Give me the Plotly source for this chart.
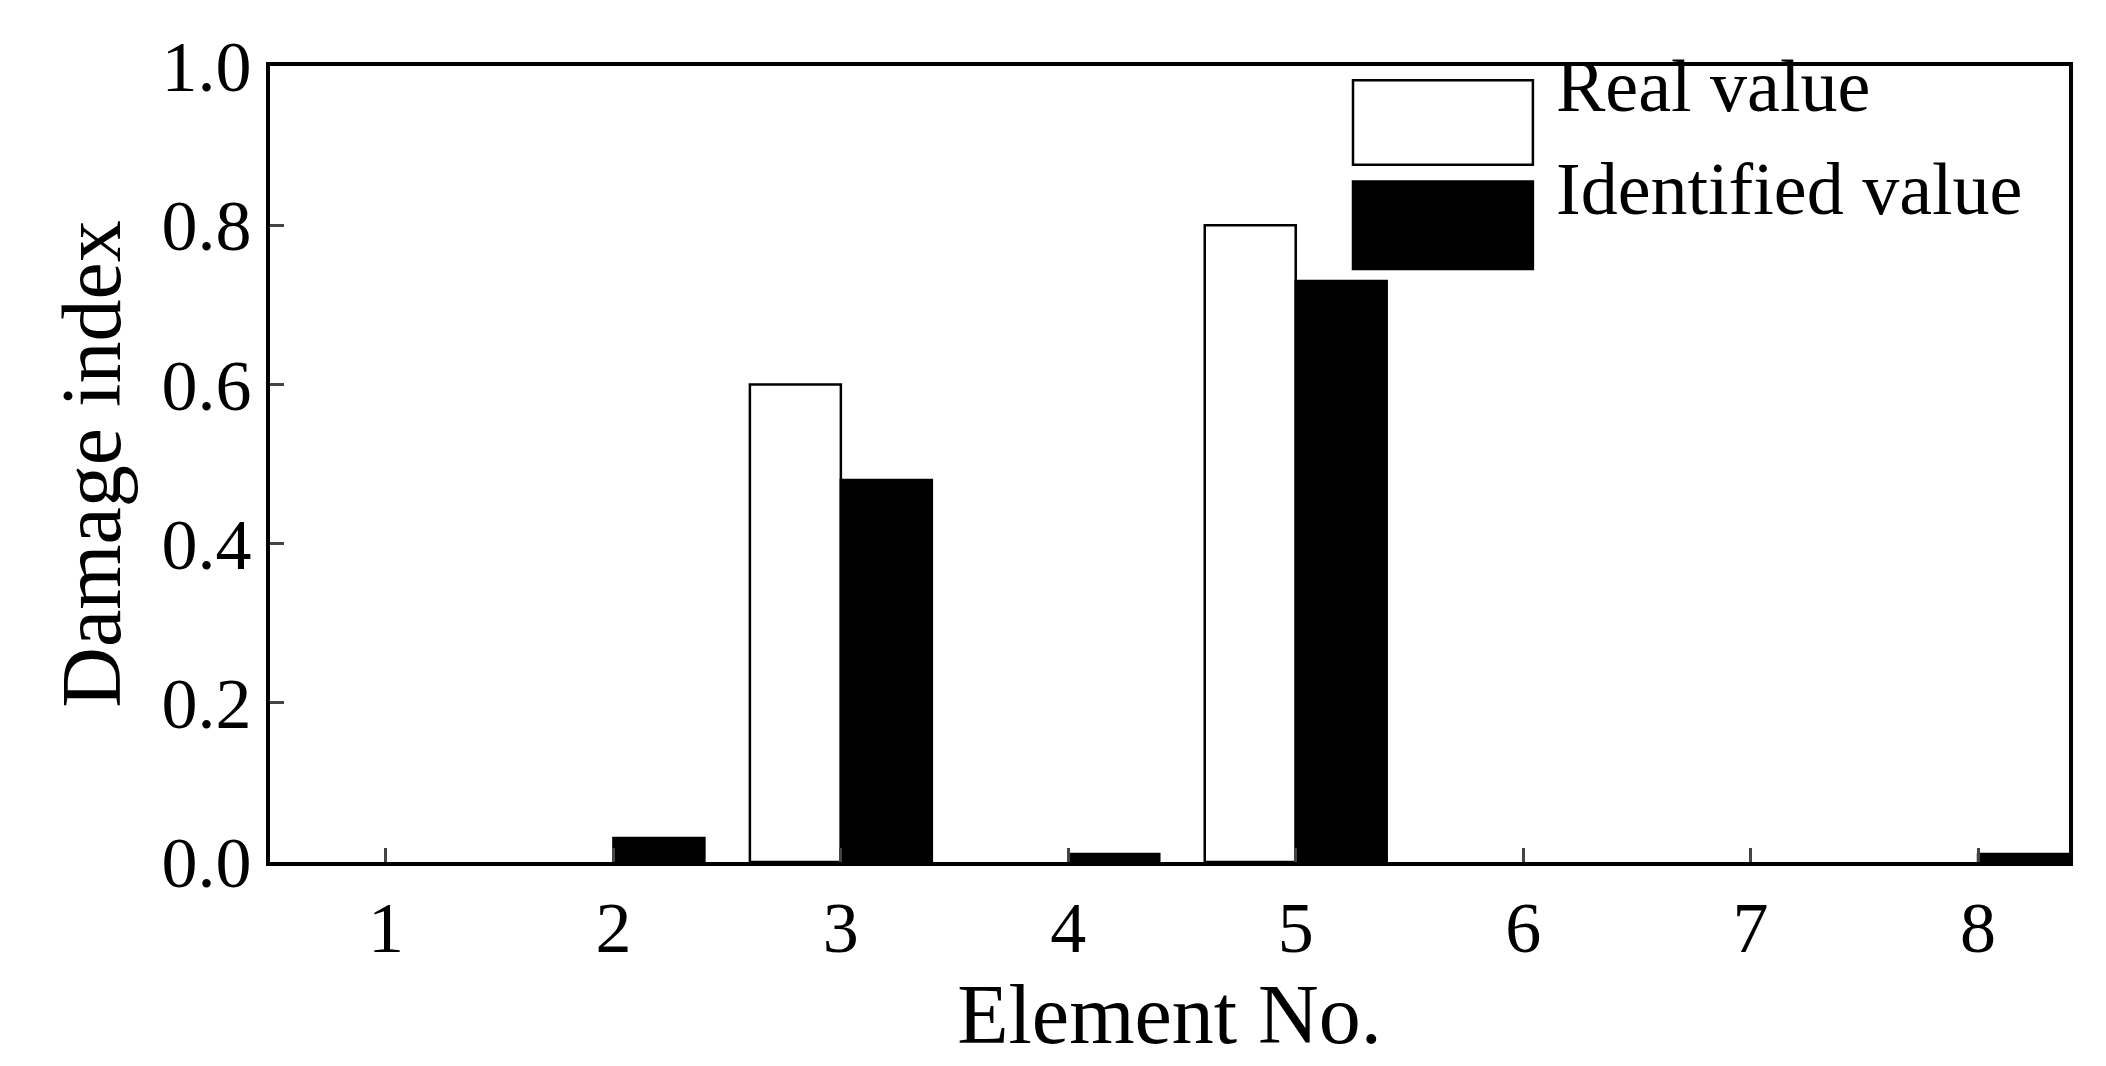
import plotly.graph_objects as go

elements = [1, 2, 3, 4, 5, 6, 7, 8]
real_value = [0, 0, 0.6, 0, 0.8, 0, 0, 0]
identified_value = [0, 0.03, 0.48, 0.01, 0.73, 0, 0, 0.01]

font = "Liberation Serif"

# no outline on zero-height bars
real_lw = [2.5 if v > 0 else 0 for v in real_value]
ident_lw = [2.5 if v > 0 else 0 for v in identified_value]

fig = go.Figure()
fig.add_bar(x=elements, y=real_value, name="Real value",
            marker=dict(color="white", line=dict(color="black", width=real_lw)))
fig.add_bar(x=elements, y=identified_value, name="Identified value",
            marker=dict(color="black", line=dict(color="black", width=ident_lw)))

# large legend boxes drawn by hand, like the original
fig.add_shape(type="rect", xref="paper", yref="paper", x0=0.602, x1=0.702, y0=0.876, y1=0.982,
              fillcolor="white", line=dict(color="black", width=2.5))
fig.add_shape(type="rect", xref="paper", yref="paper", x0=0.602, x1=0.702, y0=0.745, y1=0.855,
              fillcolor="black", line=dict(color="black", width=2.5))
fig.add_annotation(xref="paper", yref="paper", x=0.714, y=0.975, text="Real value",
                   showarrow=False, xanchor="left", yanchor="middle",
                   font=dict(family=font, size=74, color="black"))
fig.add_annotation(xref="paper", yref="paper", x=0.714, y=0.845, text="Identified value",
                   showarrow=False, xanchor="left", yanchor="middle",
                   font=dict(family=font, size=74, color="black"))

fig.update_layout(
    width=2106, height=1066, barmode="group", bargap=0.2, bargroupgap=0,
    showlegend=False, plot_bgcolor="white", paper_bgcolor="white",
    margin=dict(l=262, r=45, t=58, b=212),
    font=dict(family=font, size=72, color="black"),
)
fig.update_xaxes(range=[0.49, 8.4], tickvals=elements, ticks="inside", ticklen=14, tickwidth=3,
                 showline=True, linewidth=4, linecolor="black", mirror=True, showgrid=False,
                 title=dict(text="Element No.", font=dict(size=84), standoff=4))
fig.update_yaxes(range=[0, 1.0], dtick=0.2, tickformat=".1f", ticks="inside", ticklen=14, tickwidth=3,
                 showline=True, linewidth=4, linecolor="black", mirror=True, showgrid=False,
                 zeroline=False, title=dict(text="Damage index", font=dict(size=84), standoff=14))

fig.write_html("out.html")
